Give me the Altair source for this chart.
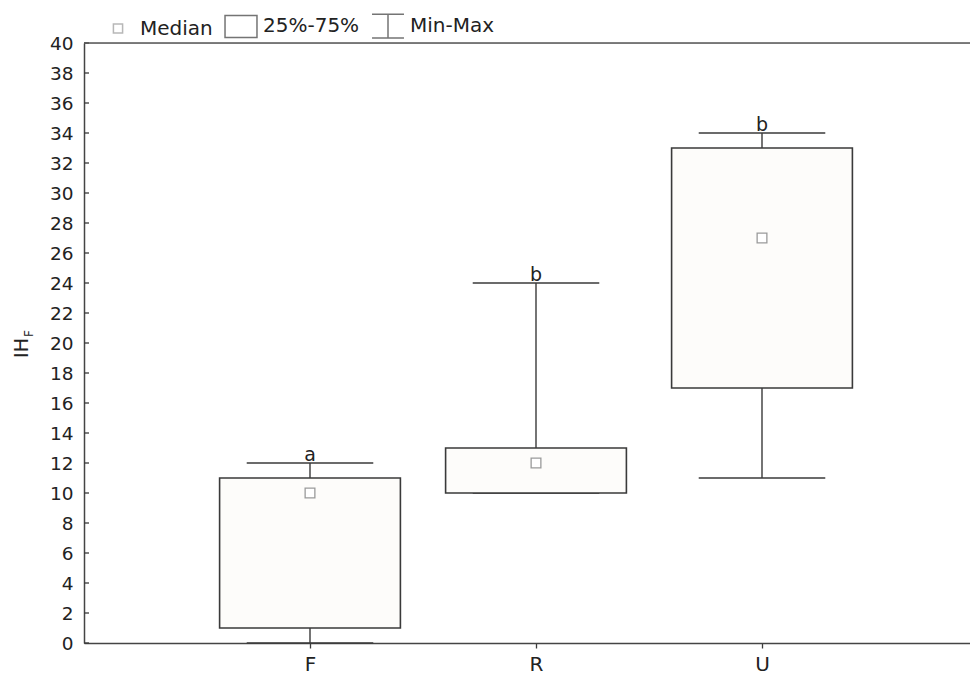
import altair as alt
import pandas as pd

# ---- data ----
groups = ["F", "R", "U"]
positions = [1, 2, 3]
mins = [0, 10, 11]
q1s = [1, 10, 17]
medians = [10, 12, 27]
q3s = [11, 13, 33]
maxs = [12, 24, 34]
letters = ["a", "b", "b"]
y_ticks = list(range(0, 41, 2))
legend_items = ["Median", "25%-75%", "Min-Max"]

W = 886
H = 600
XMAX = W / 226.0
LINE = "#3a3a3a"
FONT = "DejaVu Sans"

df = pd.DataFrame(dict(group=groups, pos=positions, lo=mins, q1=q1s,
                       med=medians, q3=q3s, hi=maxs, letter=letters))
ticks_df = pd.DataFrame(dict(v=y_ticks))
legend_df = pd.DataFrame(dict(item=legend_items, lx=[1, 1, 1], ly=[-10, -10, -10]))

xs = alt.Scale(domain=[0, XMAX], nice=False, zero=False)
ys = alt.Scale(domain=[0, 40], nice=False, zero=False)

xaxis = alt.Axis(values=[1, 2, 3],
                 labelExpr="datum.value == 1 ? 'F' : datum.value == 2 ? 'R' : 'U'",
                 title=None, grid=False, tickSize=5, tickColor=LINE, tickWidth=1.3,
                 domainColor="#444444", domainWidth=1.5, labelFontSize=20,
                 labelFont=FONT, labelColor="#222222", labelPadding=6)
yaxis = alt.Axis(values=y_ticks, title=None, grid=False, ticks=False,
                 domainColor="#444444", domainWidth=1.5, labelFontSize=18.5,
                 labelFont=FONT, labelColor="#222222", labelPadding=11)

base = alt.Chart(df).transform_calculate(
    left="datum.pos - 0.4", right="datum.pos + 0.4",
    capL="datum.pos - 0.28", capR="datum.pos + 0.28")

X = lambda f: alt.X(f, type="quantitative", scale=xs, axis=xaxis)
Y = lambda f: alt.Y(f, type="quantitative", scale=ys, axis=yaxis)

upper = base.mark_rule(color=LINE, strokeWidth=1.4).encode(
    x=X("pos"), y=Y("q3"), y2="hi:Q")
lower = base.mark_rule(color=LINE, strokeWidth=1.4).encode(
    x=X("pos"), y=Y("lo"), y2="q1:Q")
cap_top = base.mark_rule(color=LINE, strokeWidth=1.4).encode(
    x=X("capL"), x2="capR:Q", y=Y("hi"))
cap_bot = base.mark_rule(color=LINE, strokeWidth=1.4).encode(
    x=X("capL"), x2="capR:Q", y=Y("lo"))
box = base.mark_rect(fill="#fdfcfa", stroke=LINE, strokeWidth=1.6).encode(
    x=X("left"), x2="right:Q", y=Y("q1"), y2="q3:Q")
med = base.mark_point(shape="square", size=95, filled=True, fill="#ffffff",
                      stroke="#9a9a9a", strokeWidth=1.3, opacity=1).encode(
    x=X("pos"), y=Y("med"))
lett = base.mark_text(fontSize=19, font=FONT, color="#222222",
                      baseline="alphabetic", dy=-2).encode(
    x=X("pos"), y=Y("hi"), text="letter:N")

inner_ticks = alt.Chart(ticks_df).mark_rule(color=LINE, strokeWidth=1.3).encode(
    y=Y("v"), x=alt.value(0), x2=alt.value(5))
top_line = alt.Chart(ticks_df).transform_filter("datum.v == 40").mark_rule(
    color="#555555", strokeWidth=1.5).encode(
    y=Y("v"), x=alt.value(0), x2=alt.value(W))

paths = [
    "M-0.27,-0.27H0.27V0.27H-0.27Z",
    "M-0.94,-0.65H0.94V0.65H-0.94Z",
    "M-0.94,-0.7H0.94M0,-0.7V0.7M-0.94,0.7H0.94",
]
leg = alt.Legend(orient="none", legendX=16, legendY=-35, direction="horizontal",
                 title=None, symbolSize=1156, symbolStrokeWidth=1.5,
                 labelFont=FONT, labelFontSize=20, labelColor="#222222",
                 labelOffset=4, columnPadding=9, padding=0)
dummy = alt.Chart(legend_df).mark_point(filled=False, clip=True, strokeWidth=1.5).encode(
    x=X("lx"), y=Y("ly"),
    shape=alt.Shape("item:N", scale=alt.Scale(domain=legend_items, range=paths), legend=leg),
    color=alt.Color("item:N", scale=alt.Scale(domain=legend_items,
                                              range=["#9a9a9a", LINE, LINE]), legend=leg),
)

title_main = alt.Chart(pd.DataFrame(dict(t=["IH"]))).mark_text(
    angle=270, align="center", baseline="alphabetic", fontSize=19, font=FONT,
    color="#222222").encode(text="t:N", x=alt.value(-56), y=alt.value(305))
title_sub = alt.Chart(pd.DataFrame(dict(t=["F"]))).mark_text(
    angle=270, align="left", baseline="alphabetic", fontSize=12, font=FONT,
    color="#222222").encode(text="t:N", x=alt.value(-51), y=alt.value(294))

chart = alt.layer(
    upper, lower, cap_top, cap_bot, box, med, lett, inner_ticks, top_line,
    dummy, title_main, title_sub
).resolve_legend(shape="shared", color="shared").properties(
    width=W, height=H,
    autosize=alt.AutoSizeParams(type="none"),
    padding={"left": 76, "top": 35, "right": 0, "bottom": 34},
).configure_view(stroke=None).configure(background="white")

chart.save("out.html", embed_options={"renderer": "svg", "actions": False})
